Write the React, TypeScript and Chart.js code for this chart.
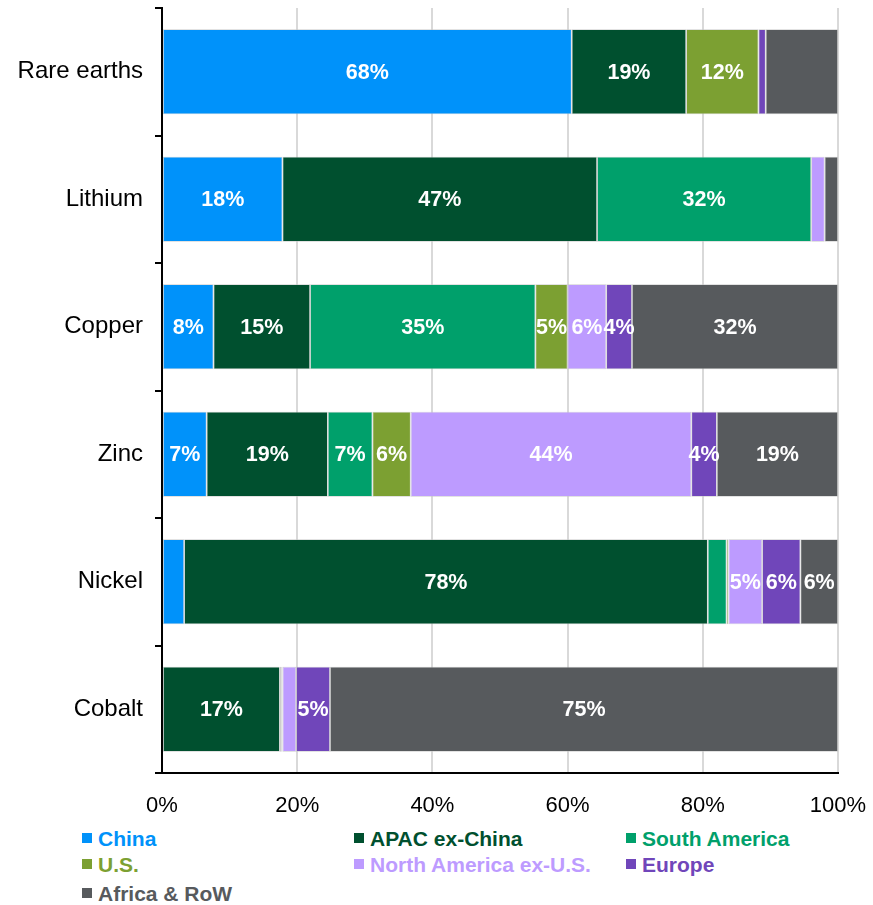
import React, { useEffect, useRef } from 'react';
import { Chart, registerables } from 'chart.js';

Chart.register(...registerables);

const FONT = '"Liberation Sans", Arial, Helvetica, sans-serif';

const categories = ['Rare earths', 'Lithium', 'Copper', 'Zinc', 'Nickel', 'Cobalt'];
const seriesNames = ['China', 'APAC ex-China', 'South America', 'U.S.', 'North America ex-U.S.', 'Europe', 'Africa & RoW'];
const seriesColors = ['#0092FA', '#00502F', '#00A06B', '#7CA032', '#BD9BFF', '#7046BA', '#575A5D'];

const china = [68, 18, 8, 7, 3.3, 0];
const apacExChina = [19, 47, 15, 19, 78, 17.4];
const southAmerica = [0, 32, 35, 7, 2.8, 0.2];
const us = [12, 0, 5, 6, 0.3, 0.2];
const northAmericaExUS = [0, 2, 6, 44, 5, 2];
const europe = [1.2, 0, 4, 4, 5.7, 5];
const africaRoW = [12, 2, 32, 19, 5.6, 75];

const xTickValues = [0, 20, 40, 60, 80, 100];

// labels that are not shown in the reference (category, series)
const hiddenLabels: [string, string][] = [['Rare earths', 'Africa & RoW']];

const allSeries = [china, apacExChina, southAmerica, us, northAmericaExUS, europe, africaRoW];

export default function App() {
  const ref = useRef<HTMLCanvasElement>(null);

  useEffect(() => {
    document.body.style.margin = '0';
    const totals = categories.map((_, i) => allSeries.reduce((s, arr) => s + arr[i], 0));

    const labelPlugin = {
      id: 'segLabels',
      afterDatasetsDraw(chart: any) {
        const ctx = chart.ctx;
        ctx.save();
        ctx.font = `bold 21.5px ${FONT}`;
        ctx.fillStyle = '#FFFFFF';
        ctx.textAlign = 'center';
        ctx.textBaseline = 'middle';
        chart.data.datasets.forEach((ds: any, di: number) => {
          const meta = chart.getDatasetMeta(di);
          meta.data.forEach((el: any, i: number) => {
            const raw = allSeries[di][i];
            if (raw < 3.5) return;
            if (hiddenLabels.some(([c, s]) => c === categories[i] && s === seriesNames[di])) return;
            const x = (el.x + el.base) / 2;
            ctx.fillText(`${Math.round(raw)}%`, x, el.y + 1);
          });
        });
        ctx.restore();
      },
    };

    const chart = new Chart(ref.current!, {
      type: 'bar',
      data: {
        labels: categories,
        datasets: allSeries.map((arr, di) => ({
          label: seriesNames[di],
          data: arr.map((v, i) => (v > 0 ? (v / totals[i]) * 100 : null)),
          backgroundColor: seriesColors[di],
          borderColor: 'rgba(200,200,200,0.9)',
          borderWidth: 0.8,
          borderSkipped: false,
          barPercentage: 0.667,
          categoryPercentage: 1,
        })),
      },
      options: {
        indexAxis: 'y',
        responsive: false,
        animation: false,
        layout: { padding: { top: 8, right: 35, left: 0, bottom: 0 } },
        plugins: {
          legend: { display: false },
          tooltip: { enabled: false },
        },
        scales: {
          x: {
            stacked: true,
            min: 0,
            max: 100,
            afterBuildTicks: (scale: any) => {
              scale.ticks = xTickValues.map((v) => ({ value: v }));
            },
            afterFit: (scale: any) => {
              scale.paddingLeft = 0;
              scale.paddingRight = 0;
              scale.height = 822 - 773;
            },
            ticks: {
              callback: (v: any) => `${v}%`,
              color: '#000000',
              font: { family: FONT, size: 22 },
              padding: 20,
              maxRotation: 0,
            },
            grid: {
              color: (c: any) => (c.tick && c.tick.value === 0 ? 'rgba(0,0,0,0)' : '#D9D9D9'),
              lineWidth: 2,
              drawTicks: false,
            },
            border: { display: true, color: '#000000', width: 2 },
          },
          y: {
            stacked: true,
            afterFit: (scale: any) => {
              scale.width = 162;
              scale.paddingTop = 0;
              scale.paddingBottom = 0;
            },
            ticks: {
              color: '#000000',
              font: { family: FONT, size: 24 },
              padding: 12,
            },
            grid: {
              offset: true,
              drawOnChartArea: false,
              drawTicks: true,
              tickLength: 7,
              color: '#000000',
              lineWidth: 2,
            },
            border: { display: true, color: '#000000', width: 2 },
          },
        },
      },
      plugins: [labelPlugin],
    });
    return () => chart.destroy();
  }, []);

  const cols = [82, 354, 626];
  const rows = [828, 854, 883];

  return (
    <div style={{ position: 'relative', width: 873, height: 905, fontFamily: FONT, background: '#fff' }}>
      <canvas ref={ref} width={873} height={822} style={{ display: 'block' }} />
      {seriesNames.map((name, i) => (
        <div
          key={name}
          style={{
            position: 'absolute',
            left: cols[i % 3],
            top: rows[Math.floor(i / 3)],
            display: 'flex',
            alignItems: 'flex-start',
            whiteSpace: 'nowrap',
          }}
        >
          <span
            style={{
              display: 'inline-block',
              width: 10,
              height: 10,
              marginTop: 5,
              marginRight: 6,
              background: seriesColors[i],
            }}
          />
          <span style={{ fontSize: 21, lineHeight: '22px', fontWeight: 'bold', color: seriesColors[i] }}>
            {name}
          </span>
        </div>
      ))}
    </div>
  );
}
